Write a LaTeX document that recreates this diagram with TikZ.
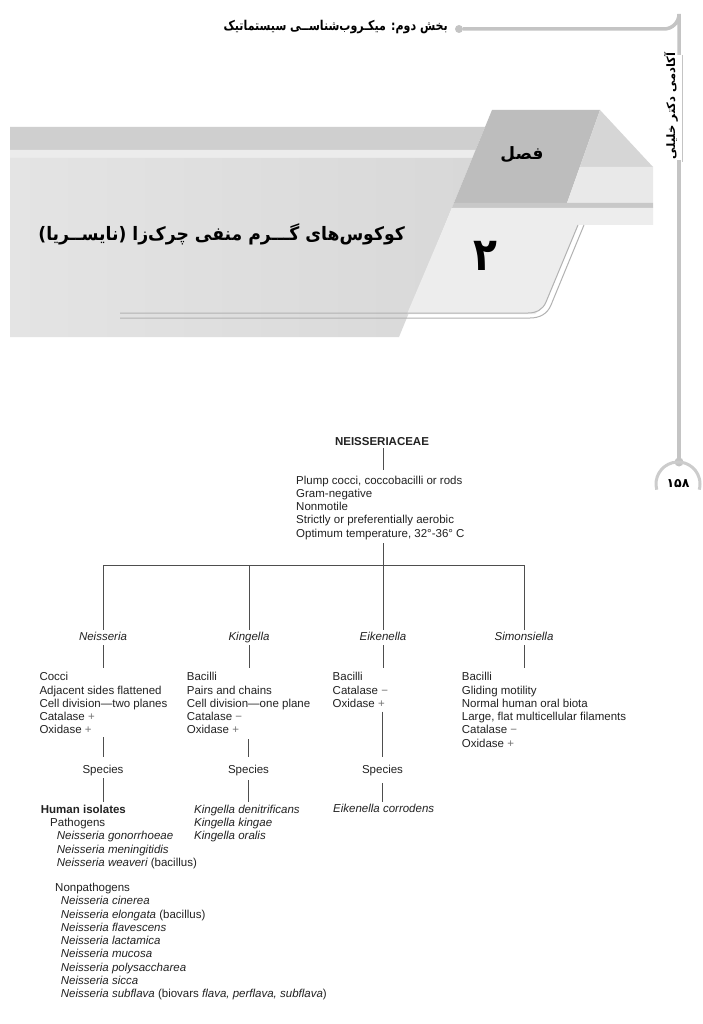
\documentclass[tikz,border=0pt]{standalone}
\usepackage{fontspec}
\setmainfont{Liberation Sans}
\newfontfamily\fa[Script=Arabic]{DejaVu Sans}
\TeXXeTstate=1
\definecolor{bar}{HTML}{C4C4C4}
\definecolor{gTop}{HTML}{CFCFCF}
\definecolor{gStripe}{HTML}{ECECEC}
\definecolor{gBody}{HTML}{D8D8D8}
\definecolor{gBodyL}{HTML}{E4E4E4}
\definecolor{gDark}{HTML}{BDBDBD}
\definecolor{gTri}{HTML}{D6D6D6}
\definecolor{gFace}{HTML}{E9E9E9}
\definecolor{gMid}{HTML}{C8C8C8}
\definecolor{gLight}{HTML}{EDEDED}
\definecolor{ink}{HTML}{222222}
\newcommand{\pl}{\textcolor{black!55}{+}}
\newcommand{\mi}{\textcolor{black!55}{−}}
\newcommand{\fs}{\fontsize{11.5}{13.3}\selectfont}
\begin{document}
\begin{tikzpicture}[x=1pt,y=-1pt,
  txt/.style={anchor=north west,inner sep=0pt,align=left,text=ink,font=\fs},
  itxt/.style={txt,font=\itshape\fs},
  lbl/.style={anchor=base,inner sep=0pt,text=ink,font=\fs},
  ilbl/.style={lbl,font=\itshape\fs},
  ln/.style={draw=ink!80,line width=0.8pt},
  fa/.style={inner sep=0pt,text=black}]
\useasboundingbox (0,0) rectangle (703,1024);
\fill[white] (0,0) rectangle (703,1024);

% ---------- header line ----------
\fill[bar] (459,29) circle (4);
\draw[bar,line width=3.5pt] (463,29) -- (664,29) arc[start angle=90,end angle=0,radius=15] -- (679,55);
\draw[bar,line width=1pt] (682,55) -- (682,162);
\draw[bar,line width=3.5pt] (679,160) -- (679,458);
\fill[bar] (679,462) circle (4.5);
\draw[black!20,line width=3pt] (678,484) ++(165:22) arc[start angle=165,end angle=375,radius=22];
\node[fa,anchor=east,xscale=0.82] (hdr) at (448,27) {\fa\bfseries\fontsize{13.5}{15}\selectfont\beginR بخش دوم: میکـروب‌شناســی سیستماتیک\endR};
\node[fa,rotate=90] (pub) at (671,106) {\fa\bfseries\fontsize{11.5}{13}\selectfont\beginR آکادمی دکتر خلیلی\endR};
\node[fa] (pg) at (678,484) {\fa\bfseries\fontsize{12.5}{14}\selectfont ۱۵۸};

% ---------- banner ----------
\fill[gTop] (10,127) -- (485,127) -- (475.6,150) -- (10,150) -- cycle;
\fill[gStripe] (10,150) -- (475.6,150) -- (472.3,158) -- (10,158) -- cycle;
\shade[left color=gBodyL,right color=gBody] (10,158) -- (472.3,158) -- (399,337) -- (10,337) -- cycle;
\fill[gDark] (492,110) -- (600,110) -- (567,203) -- (453.9,203) -- cycle;
\fill[gTri] (600,110) -- (653,167) -- (579.8,167) -- cycle;
\fill[gFace] (579.8,167) -- (653,167) -- (653,203) -- (567,203) -- cycle;
\fill[gMid] (453.9,203) -- (653,203) -- (653,208) -- (451.8,208) -- cycle;
\fill[gLight] (451.8,208) -- (653,208) -- (653,225) -- (444.8,225) -- cycle;
\fill[gLight] (444.8,225) -- (578,225) -- (545,305) -- (535,314) -- (407,314) -- cycle;
\draw[black!30,line width=1pt] (578,225) -- (546,302) to[out=248,in=0] (528,313) -- (120,313);
\draw[black!30,line width=1pt] (584,225) -- (551,305) to[out=248,in=0] (530,318) -- (120,318);
\node[fa] (fasl) at (522,155) {\fa\bfseries\fontsize{17}{20}\selectfont\beginR فصل\endR};
\node[fa,xscale=0.85] (num) at (485,256) {\fa\bfseries\fontsize{46}{50}\selectfont ۲};
\node[fa,anchor=east,xscale=0.93] (title) at (405,234) {\fa\bfseries\fontsize{18.5}{22}\selectfont\beginR کوکوس‌های گـــرم منفی چرک‌زا (نایســریا)\endR};

% ---------- tree ----------
\node[lbl,font=\bfseries\fs] (root) at (382,445) {NEISSERIACEAE};
\node[txt] (props) at (296,474.5) {\strut Plump cocci, coccobacilli or rods\\Gram-negative\\Nonmotile\\Strictly or preferentially aerobic\\Optimum temperature, 32°-36° C};

\path (383,448) coordinate (rA) (383,470) coordinate (rB)
      (383,543) coordinate (pA) (383,565) coordinate (hub)
      (103,565) coordinate (jN) (249,565) coordinate (jK) (524,565) coordinate (jS)
      (103,630) coordinate (aN) (249,630) coordinate (aK) (383,630) coordinate (aE) (524,630) coordinate (aS)
      (103,645) coordinate (bN) (249,645) coordinate (bK) (383,645) coordinate (bE) (524,645) coordinate (bS)
      (103,668) coordinate (cN) (249,668) coordinate (cK) (383,668) coordinate (cE) (524,668) coordinate (cS);
\draw[ln] (rA) -- (rB);
\draw[ln] (pA) -- (hub);
\draw[ln] (jN) -- (jS);
\draw[ln] (jN) -- (aN); \draw[ln] (jK) -- (aK); \draw[ln] (hub) -- (aE); \draw[ln] (jS) -- (aS);
\draw[ln] (bN) -- (cN); \draw[ln] (bK) -- (cK); \draw[ln] (bE) -- (cE); \draw[ln] (bS) -- (cS);

\node[ilbl] (nei) at (103,640.7) {Neisseria};
\node[ilbl] (kin) at (249,640.7) {Kingella};
\node[ilbl] (eik) at (383,640.7) {Eikenella};
\node[ilbl] (sim) at (524,640.7) {Simonsiella};

\node[txt] (neiT) at (39.3,671.2) {\strut Cocci\\Adjacent sides flattened\\Cell division—two planes\\Catalase \pl\\Oxidase \pl};
\node[txt] (kinT) at (186.7,671.2) {\strut Bacilli\\Pairs and chains\\Cell division—one plane\\Catalase \mi\\Oxidase \pl};
\node[txt] (eikT) at (332.5,671.2) {\strut Bacilli\\Catalase \mi\\Oxidase \pl};
\node[txt] (simT) at (461.7,671.2) {\strut Bacilli\\Gliding motility\\Normal human oral biota\\Large, flat multicellular filaments\\Catalase \mi\\Oxidase \pl};

\path (103,737) coordinate (dN) (103,757) coordinate (eN) (103,778) coordinate (fN) (103,801.7) coordinate (gN)
      (248.5,739) coordinate (dK) (248.5,757) coordinate (eK) (248.5,780) coordinate (fK) (248.5,801.7) coordinate (gK)
      (382.5,711.7) coordinate (dE) (382.5,756.7) coordinate (eE) (382.5,783) coordinate (fE) (382.5,801.7) coordinate (gE);
\draw[ln] (dN) -- (eN); \draw[ln] (fN) -- (gN);
\draw[ln] (dK) -- (eK); \draw[ln] (fK) -- (gK);
\draw[ln] (dE) -- (eE); \draw[ln] (fE) -- (gE);
\node[lbl] (spN) at (103,773) {Species};
\node[lbl] (spK) at (248.5,773) {Species};
\node[lbl] (spE) at (382.5,773) {Species};

\node[txt,font=\bfseries\fs] (hum) at (40.7,803.5) {\strut Human isolates};
\node[txt] (path) at (50,816.8) {\strut Pathogens};
\node[itxt] (pathL) at (56.7,830.2) {\strut Neisseria gonorrhoeae\\Neisseria meningitidis\\Neisseria weaveri \upshape(bacillus)};
\node[txt] (npath) at (55,881.8) {\strut Nonpathogens};
\node[itxt] (npathL) at (60.7,895.2) {\strut Neisseria cinerea\\Neisseria elongata \upshape(bacillus)\\Neisseria flavescens\\Neisseria lactamica\\Neisseria mucosa\\Neisseria polysaccharea\\Neisseria sicca\\Neisseria subflava \upshape(biovars \itshape flava, perflava, subflava\upshape)};
\node[itxt] (kinL) at (194,803.5) {\strut Kingella denitrificans\\Kingella kingae\\Kingella oralis};
\node[itxt] (eikL) at (333,802.8) {\strut Eikenella corrodens};
\end{tikzpicture}
\end{document}
